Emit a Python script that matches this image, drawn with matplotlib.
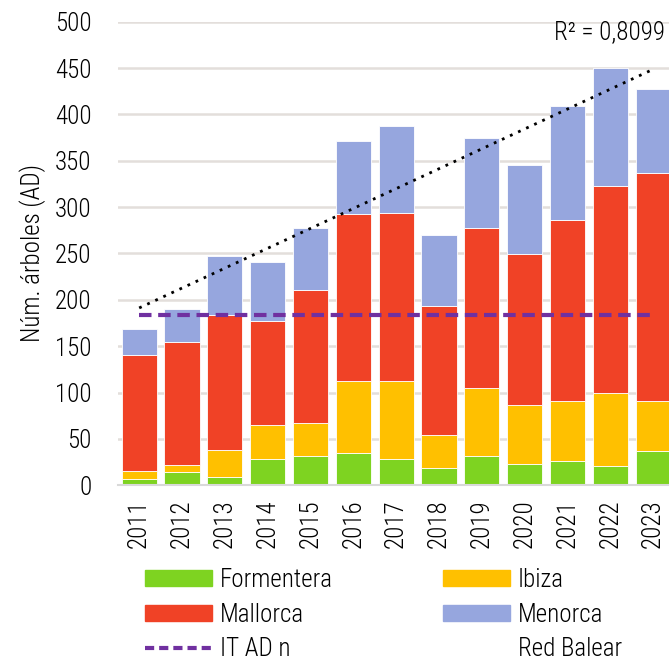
import numpy as np
import matplotlib
matplotlib.use("Agg")
import matplotlib.pyplot as plt
from matplotlib.lines import Line2D
from matplotlib.patches import Patch

plt.rcParams['font.family'] = ['Roboto Condensed', 'DejaVu Sans']
plt.rcParams['font.stretch'] = 'condensed'
plt.rcParams['font.weight'] = 'light'
plt.rcParams['axes.labelweight'] = 'light'

years = ["2011", "2012", "2013", "2014", "2015", "2016", "2017",
         "2018", "2019", "2020", "2021", "2022", "2023"]
formentera = [7, 14, 9, 28, 31, 35, 28, 19, 32, 23, 26, 21, 37]
ibiza = [8, 8, 29, 37, 36, 77, 84, 35, 73, 63, 65, 79, 54]
mallorca = [125, 133, 146, 112, 144, 181, 182, 139, 172, 163, 195, 223, 246]
menorca = [29, 35, 63, 64, 66, 78, 94, 77, 98, 97, 123, 127, 90]
it_ad_n = [183.5] * 13
r2_text = "R² = 0,8099"

colors = {"Formentera": "#7ed321", "Ibiza": "#ffc000",
          "Mallorca": "#f04226", "Menorca": "#96a6de"}

fs = 18
fig = plt.figure(figsize=(6.69, 6.61), dpi=100)
ax = fig.add_axes([0.176, 0.266, 0.824, 0.701])

x = np.arange(len(years))
bottom = np.zeros(len(years))
for name, vals in [("Formentera", formentera), ("Ibiza", ibiza),
                   ("Mallorca", mallorca), ("Menorca", menorca)]:
    ax.bar(x, vals, 0.82, bottom=bottom, color=colors[name],
           edgecolor="white", linewidth=0.6, zorder=2)
    bottom += np.array(vals)

# linear trend of the totals
coef = np.polyfit(x, bottom, 1)
ax.plot(x, np.polyval(coef, x), color="black", linestyle=(0, (1, 2.2)),
        linewidth=2, zorder=3)
ax.plot(x, it_ad_n, color="#7030a0", linestyle=(0, (3, 1.6)),
        linewidth=3, zorder=3)
ax.text(12.28, 489, r2_text, ha="right", va="center", fontsize=fs)

ax.set_ylim(0, 500)
ax.set_xlim(-0.5, 12.37)
ax.set_yticks(range(0, 501, 50))
ax.set_xticks(x)
ax.set_xticklabels(years, rotation=90)
ax.tick_params(axis="y", length=0, pad=19, labelsize=fs)
ax.tick_params(axis="x", length=0, pad=10, labelsize=fs)
ax.grid(axis="y", color="#e3dedb", linewidth=1.8, zorder=0)
ax.set_axisbelow(True)
for s in ["top", "right", "left"]:
    ax.spines[s].set_visible(False)
ax.spines["bottom"].set_color("#d9d9d9")
ax.spines["bottom"].set_linewidth(1.5)
ax.set_ylabel("Núm. árboles (AD)", fontsize=fs, fontweight="light", labelpad=6)

leg_kw = dict(loc="upper left", frameon=False, fontsize=fs, handlelength=2.67,
              handleheight=0.62, handletextpad=0.32, labelspacing=0.42,
              borderpad=0, borderaxespad=0)
h1 = [Patch(color=colors["Formentera"]), Patch(color=colors["Mallorca"]),
      Line2D([], [], color="#7030a0", linestyle=(0, (2.2, 1.2)), linewidth=3)]
fig.legend(h1, ["Formentera", "Mallorca", "IT AD n"],
           bbox_to_anchor=(145 / 669, 1 - 568 / 661), **leg_kw)
h2 = [Patch(color=colors["Ibiza"]), Patch(color=colors["Menorca"]),
      Line2D([], [], color="white", linewidth=0)]
fig.legend(h2, ["Ibiza", "Menorca", "Red Balear"],
           bbox_to_anchor=(443 / 669, 1 - 568 / 661), **leg_kw)

fig.savefig("out.png", dpi=100)
